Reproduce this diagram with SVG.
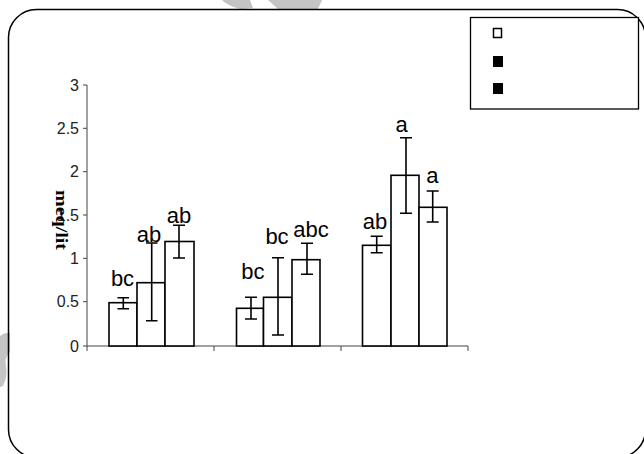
<svg xmlns="http://www.w3.org/2000/svg" width="644" height="454" viewBox="0 0 644 454">
<style>
.bar{fill:#fff;stroke:#000;stroke-width:1.6}
.err{stroke:#000;stroke-width:1.6;fill:none}
.axis{stroke:#444;stroke-width:1;fill:none}
.tick{font-family:"Liberation Sans",Arial,sans-serif;font-size:16px;fill:#222;text-anchor:end}
.lbl{font-family:"Liberation Sans",Arial,sans-serif;font-size:22px;fill:#000;text-anchor:middle}
.wm{fill:#c4c4c4}
</style>
<rect width="644" height="454" fill="#fff"/>
<g id="watermark">
<path class="wm" d="M222,0 L250,0 L253,8 L240,9 Q228,6 222,0 Z"/>
<path class="wm" d="M268,0 L322,0 L318,9 L278,9 Z"/>
<path class="wm" d="M0,336 Q6,332 10,333 L10,352 Q4,358 6,366 Q8,376 3,386 L0,387 Z"/>
</g>
<rect id="frame" x="8.5" y="9.5" width="637" height="448" rx="28" ry="28" fill="none" stroke="#000" stroke-width="1.5"/>
<g id="legend">
<rect x="470.5" y="17.5" width="168" height="91.5" fill="#fff" stroke="#000" stroke-width="1.3"/>
<rect x="493.5" y="28.5" width="8" height="9" fill="#fff" stroke="#000" stroke-width="1.5"/>
<rect x="493" y="56" width="10" height="11" fill="#000"/>
<rect x="493" y="83" width="10" height="11" fill="#000"/>
</g>
<g id="axes">
<path class="axis" d="M87,85 L87,346 L468,346"/>
<path class="axis" d="M83,85H87M83,128.3H87M83,171.7H87M83,215H87M83,258.3H87M83,301.7H87M83,346H87"/>
<path class="axis" d="M87,346V351M214,346V351M341,346V351M468,346V351"/>
<text class="tick" x="79" y="91">3</text>
<text class="tick" x="79" y="134">2.5</text>
<text class="tick" x="79" y="177">2</text>
<text class="tick" x="79" y="221">1.5</text>
<text class="tick" x="79" y="264">1</text>
<text class="tick" x="79" y="307">0.5</text>
<text class="tick" x="79" y="352">0</text>
<text x="0" y="0" transform="translate(56,190) rotate(90)" font-family="'Liberation Serif','Times New Roman',serif" font-weight="bold" font-size="17" textLength="60" lengthAdjust="spacingAndGlyphs" fill="#000">meq/lit</text>
</g>
<g id="group1">
<rect class="bar" x="109" y="302.7" width="28" height="43.3"/>
<rect class="bar" x="137" y="282.7" width="28" height="63.3"/>
<rect class="bar" x="165" y="241.5" width="29" height="104.5"/>
</g>
<g id="group2">
<rect class="bar" x="236.5" y="308.3" width="27" height="37.7"/>
<rect class="bar" x="263.5" y="297.3" width="28.5" height="48.7"/>
<rect class="bar" x="292" y="259.7" width="28" height="86.3"/>
</g>
<g id="group3">
<rect class="bar" x="362.5" y="245.3" width="28.5" height="100.7"/>
<rect class="bar" x="391" y="175.3" width="28" height="170.7"/>
<rect class="bar" x="419" y="207.3" width="28" height="138.7"/>
</g>
<g id="errorbars">
<path class="err" d="M123.3,297.7V308.7M117.5,297.7H129M117.5,308.7H129"/>
<path class="err" d="M151.7,243V320.7M146,243H157.5M146,320.7H157.5"/>
<path class="err" d="M179,225.3V258M173,225.3H185M173,258H185"/>
<path class="err" d="M251,297.3V319M245,297.3H257M245,319H257"/>
<path class="err" d="M278,257.7V335M272,257.7H284M272,335H284"/>
<path class="err" d="M307,243.3V274.3M301,243.3H313M301,274.3H313"/>
<path class="err" d="M376.7,236.3V252.7M370.7,236.3H382.7M370.7,252.7H382.7"/>
<path class="err" d="M406,137.7V213.3M400,137.7H412M400,213.3H412"/>
<path class="err" d="M432.7,191V222M426.7,191H438.7M426.7,222H438.7"/>
</g>
<g id="labels">
<text class="lbl" x="122.5" y="285.7">bc</text>
<text class="lbl" x="149" y="241.7">ab</text>
<text class="lbl" x="179" y="223.3">ab</text>
<text class="lbl" x="252.8" y="279">bc</text>
<text class="lbl" x="277" y="244.3">bc</text>
<text class="lbl" x="311" y="237.3">abc</text>
<text class="lbl" x="375" y="229">ab</text>
<text class="lbl" x="401.7" y="132.3">a</text>
<text class="lbl" x="432.3" y="183.3">a</text>
</g>
</svg>
